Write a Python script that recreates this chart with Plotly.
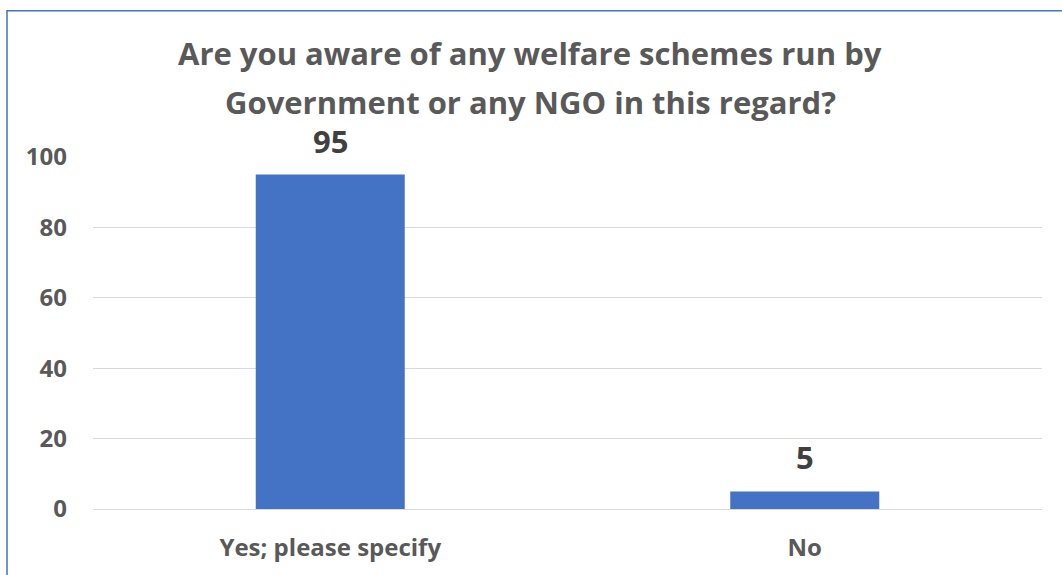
import plotly.graph_objects as go

categories = ["Yes; please specify", "No"]
values = [95, 5]
y_ticks = [0, 20, 40, 60, 80, 100]
title_lines = [
    "Are you aware of any welfare schemes run by",
    "Government or any NGO in this regard?",
]

W, H = 1062, 575
ML, MR, MT, MB = 93, 20, 157, 64
PW, PH = W - ML - MR, H - MT - MB

FONT = "Open Sans"
GREY = "#595959"
DARK = "#404040"
BLUE = "#4472C4"


def px_x(x):
    return (x - ML) / PW


def px_y(y):
    return (H - MB - y) / PH


fig = go.Figure(
    go.Bar(
        x=categories,
        y=values,
        width=0.314,
        marker=dict(color=BLUE, line=dict(width=0)),
        hoverinfo="skip",
    )
)

annotations = []
# data labels above each bar
for c, v in zip(categories, values):
    annotations.append(dict(
        x=c, y=v, xref="x", yref="y", text=f"<b>{v}</b>", showarrow=False,
        yanchor="bottom", yshift=11,
        font=dict(family=FONT, size=31, color=DARK),
    ))
# two-line chart title, placed by pixel row of each line's centre
for line, yc in zip(title_lines, [52, 102]):
    annotations.append(dict(
        x=px_x(W / 2 - 1), y=px_y(yc), xref="paper", yref="paper",
        text=f"<b>{line}</b>", showarrow=False,
        yanchor="middle", xanchor="center",
        font=dict(family=FONT, size=31, color=GREY),
    ))

fig.update_layout(
    width=W, height=H,
    margin=dict(l=ML, r=MR, t=MT, b=MB, pad=0),
    paper_bgcolor="white", plot_bgcolor="white",
    showlegend=False,
    annotations=annotations,
    shapes=[dict(
        type="rect", xref="paper", yref="paper",
        x0=px_x(7), x1=px_x(W + 10), y0=px_y(H + 10), y1=px_y(10),
        line=dict(color=BLUE, width=1.5), fillcolor="rgba(0,0,0,0)", layer="above",
    )],
    xaxis=dict(
        showgrid=False, showline=False, zeroline=False, ticks="",
        tickfont=dict(family=FONT, size=24, color=GREY),
        ticklabelstandoff=22,
        tickprefix="<b>", ticksuffix="</b>",
    ),
    yaxis=dict(
        range=[0, 100], tickvals=y_ticks, ticktext=[f"<b>{t}</b>" for t in y_ticks],
        showgrid=True, gridcolor="#D9D9D9", gridwidth=1,
        zeroline=True, zerolinecolor="#D9D9D9", zerolinewidth=1,
        showline=False, ticks="",
        tickfont=dict(family=FONT, size=24, color=GREY),
        ticklabelstandoff=25,
    ),
)

fig.write_html("out.html")
